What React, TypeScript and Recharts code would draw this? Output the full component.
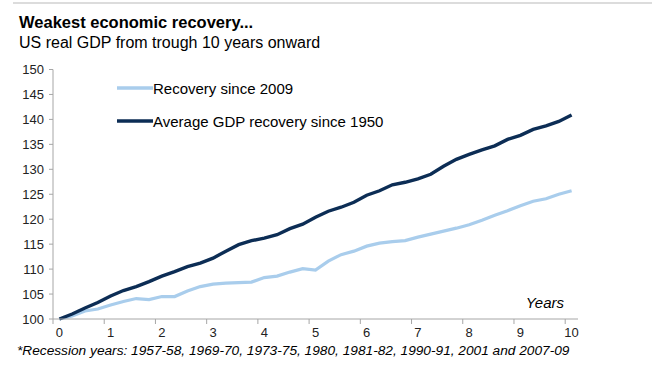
import { LineChart, Line, XAxis, YAxis } from "recharts";

// quarterly points, years after the trough
const quarters = [
  0, 0.25, 0.5, 0.75, 1, 1.25, 1.5, 1.75, 2, 2.25, 2.5, 2.75, 3, 3.25, 3.5,
  3.75, 4, 4.25, 4.5, 4.75, 5, 5.25, 5.5, 5.75, 6, 6.25, 6.5, 6.75, 7, 7.25,
  7.5, 7.75, 8, 8.25, 8.5, 8.75, 9, 9.25, 9.5, 9.75, 10,
];

const recovery2009 = [
  100, 100.6, 101.6, 102.0, 102.8, 103.5, 104.1, 103.9, 104.5, 104.5, 105.6,
  106.5, 107.0, 107.2, 107.3, 107.4, 108.3, 108.6, 109.4, 110.1, 109.8, 111.6,
  112.9, 113.6, 114.6, 115.2, 115.5, 115.7, 116.4, 117.0, 117.6, 118.2, 118.9,
  119.8, 120.8, 121.7, 122.7, 123.6, 124.1, 125.0, 125.7,
];

const average1950 = [
  100, 101.0, 102.2, 103.3, 104.6, 105.7, 106.5, 107.5, 108.6, 109.5, 110.5,
  111.2, 112.2, 113.6, 114.9, 115.7, 116.2, 116.9, 118.1, 119.0, 120.4, 121.6,
  122.4, 123.4, 124.8, 125.7, 126.9, 127.4, 128.1, 129.0, 130.6, 132.0, 133.0,
  133.9, 134.7, 136.0, 136.8, 138.0, 138.7, 139.6, 140.9,
];

const seriesNames = ["Recovery since 2009", "Average GDP recovery since 1950"];
const yTicks = [100, 105, 110, 115, 120, 125, 130, 135, 140, 145, 150];
const xTicks = [0, 1, 2, 3, 4, 5, 6, 7, 8, 9, 10];

const LIGHT = "#a9cdec";
const DARK = "#0c2d55";
const AXIS = "#a6a6a6";
const FONT = "'Liberation Sans', Arial, sans-serif";

const data = quarters.map((t, i) => ({
  t,
  recovery: recovery2009[i],
  average: average1950[i],
}));

const YearTick = (props: any) => {
  const { x, y, payload } = props;
  return (
    <g>
      <line x1={x - 6.4} x2={x - 6.4} y1={y} y2={y + 5} stroke={AXIS} />
      <text x={x} y={y + 18} textAnchor="middle" fontSize={13} fill="#222">
        {payload.value}
      </text>
    </g>
  );
};

const legendItems = [
  { name: seriesNames[0], color: LIGHT },
  { name: seriesNames[1], color: DARK },
];

export default function App() {
  return (
    <div
      style={{
        position: "absolute",
        left: 0,
        top: 0,
        width: 652,
        height: 367,
        background: "#fff",
        fontFamily: FONT,
        color: "#000",
      }}
    >
      <div
        style={{
          position: "absolute",
          left: 13,
          right: 0,
          top: 2,
          height: 2,
          background: "#dcdcdc",
        }}
      />
      <div
        style={{
          position: "absolute",
          left: 19,
          top: 13,
          fontSize: 16.5,
          fontWeight: "bold",
          whiteSpace: "nowrap",
        }}
      >
        Weakest economic recovery...
      </div>
      <div
        style={{
          position: "absolute",
          left: 19,
          top: 34,
          fontSize: 16,
          whiteSpace: "nowrap",
        }}
      >
        US real GDP from trough 10 years onward
      </div>

      <LineChart
        width={652}
        height={367}
        data={data}
        margin={{ top: 69.5, right: 74, bottom: 0, left: 0 }}
        style={{ position: "absolute", left: 0, top: 0 }}
      >
        <XAxis
          type="number"
          dataKey="t"
          domain={[-0.125, 10.125]}
          ticks={xTicks}
          allowDataOverflow
          height={48}
          stroke={AXIS}
          tickLine={false}
          tickSize={0}
          tickMargin={0}
          tick={<YearTick />}
          interval={0}
        />
        <YAxis
          type="number"
          domain={[100, 150]}
          ticks={yTicks}
          width={53}
          stroke={AXIS}
          tickSize={4}
          tickMargin={5}
          interval={0}
          tick={{ fill: "#222", fontSize: 13 }}
        />
        <Line
          dataKey="recovery"
          name={seriesNames[0]}
          stroke={LIGHT}
          strokeWidth={3.2}
          dot={false}
          isAnimationActive={false}
        />
        <Line
          dataKey="average"
          name={seriesNames[1]}
          stroke={DARK}
          strokeWidth={3.4}
          dot={false}
          isAnimationActive={false}
        />
      </LineChart>

      {legendItems.map((item, i) => (
        <div
          key={item.name}
          style={{
            position: "absolute",
            left: 117,
            top: 79 + i * 33,
            height: 18,
            display: "flex",
            alignItems: "center",
            fontSize: 15,
            whiteSpace: "nowrap",
          }}
        >
          <svg width={36} height={18} style={{ display: "block" }}>
            <line x1={0} x2={36} y1={9} y2={9} stroke={item.color} strokeWidth={3.4} />
          </svg>
          <span>{item.name}</span>
        </div>
      ))}

      <div
        style={{
          position: "absolute",
          right: 652 - 564,
          top: 294,
          fontSize: 15,
          fontStyle: "italic",
        }}
      >
        Years
      </div>
      <div
        style={{
          position: "absolute",
          left: 17,
          top: 343,
          fontSize: 13.7,
          fontStyle: "italic",
          whiteSpace: "nowrap",
        }}
      >
        *Recession years: 1957-58, 1969-70, 1973-75, 1980, 1981-82, 1990-91, 2001 and 2007-09
      </div>
    </div>
  );
}
